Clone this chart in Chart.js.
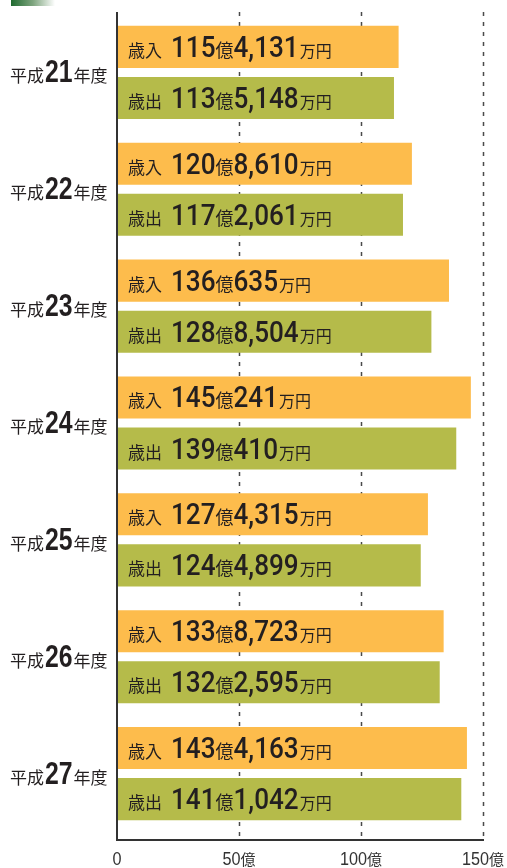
<!DOCTYPE html>
<html>
<head>
<meta charset="utf-8">
<script src="https://cdn.jsdelivr.net/npm/chart.js@4.4.1/dist/chart.umd.min.js"></script>
<style>
  html, body { margin: 0; padding: 0; background: #fff; }
  #wrap { width: 507px; height: 868px; position: relative; }
</style>
</head>
<body>
<div id="wrap"><canvas id="myChart"></canvas></div>
<script>
// 年度ごとの決算額（単位：万円）
const years = ['平成21年度', '平成22年度', '平成23年度', '平成24年度', '平成25年度', '平成26年度', '平成27年度'];
const revenue = [1154131, 1208610, 1360635, 1450241, 1274315, 1338723, 1434163];     // 歳入
const expenditure = [1135148, 1172061, 1288504, 1390410, 1244899, 1322595, 1411042]; // 歳出
const seriesNames = ['歳入', '歳出'];
const xTicks = [0, 50, 100, 150];
const xTickLabels = ['0', '50億', '100億', '150億'];

const CJK = '"Noto Sans CJK JP", sans-serif';
const NUM = 'Roboto, "Liberation Sans", Arial, sans-serif';
const NUM2 = '"Liberation Sans", Arial, sans-serif';
const ink = '#231f20';

// split 万円 value into 億 / 万 parts
function splitOku(v) {
    const oku = Math.floor(v / 10000);
    const man = (v % 10000).toLocaleString('en-US');
    return [String(oku), man];
}

// draw a run of text pieces with different fonts on one baseline
function drawRun(ctx, x, y, parts) {
    parts.forEach(p => {
        const sx = p.sx || 1;
        ctx.save();
        ctx.font = p.font;
        const w = ctx.measureText(p.text).width * sx;
        ctx.translate(x, y);
        ctx.scale(sx, 1);
        ctx.fillText(p.text, 0, 0);
        ctx.restore();
        x += w + (p.gap || 0);
    });
}

const decoPlugin = {
    id: 'deco',
    beforeDatasetsDraw(chart) {
        const ctx = chart.ctx;
        const xs = chart.scales.x;
        const area = chart.chartArea;
        const top = area.top - 2, bottom = area.bottom + 8;
        ctx.save();
        // dashed grid
        ctx.strokeStyle = '#4a4a4a';
        ctx.lineWidth = 1.5;
        ctx.setLineDash([4, 6]);
        xTicks.slice(1).forEach(t => {
            const px = Math.round(xs.getPixelForValue(t)) + 0.5;
            ctx.beginPath();
            ctx.moveTo(px, top);
            ctx.lineTo(px, bottom);
            ctx.stroke();
        });
        ctx.restore();

        // green gradient tab
        ctx.save();
        const g = ctx.createLinearGradient(11, 0, 55, 0);
        g.addColorStop(0, '#1f6a2f');
        g.addColorStop(0.5, '#7fa57f');
        g.addColorStop(1, '#ffffff');
        ctx.fillStyle = g;
        ctx.fillRect(11, 0, 44, 6);
        ctx.restore();
    },
    afterDatasetsDraw(chart) {
        const ctx = chart.ctx;
        const xs = chart.scales.x;
        const ys = chart.scales.y;
        const area = chart.chartArea;
        const top = area.top - 2, bottom = area.bottom + 8;
        ctx.save();
        // axis lines
        ctx.strokeStyle = '#333';
        ctx.lineWidth = 2;
        ctx.beginPath();
        ctx.moveTo(area.left, top);
        ctx.lineTo(area.left, bottom);
        ctx.lineTo(xs.getPixelForValue(150) + 1, bottom);
        ctx.stroke();

        ctx.fillStyle = ink;
        ctx.textBaseline = 'alphabetic';
        ctx.textAlign = 'left';

        // bar labels
        [revenue, expenditure].forEach((arr, d) => {
            const meta = chart.getDatasetMeta(d);
            meta.data.forEach((el, i) => {
                const [oku, man] = splitOku(arr[i]);
                drawRun(ctx, area.left + 11, el.y + 10, [
                    { text: seriesNames[d], font: '17px ' + CJK, gap: 9 },
                    { text: oku, font: '500 29px ' + NUM, sx: 0.9 },
                    { text: '億', font: '18px ' + CJK },
                    { text: man, font: '500 29px ' + NUM, sx: 0.9, gap: 1 },
                    { text: '万円', font: '16px ' + CJK }
                ]);
            });
        });

        // category labels
        years.forEach((label, i) => {
            const m = label.match(/^(\D+)(\d+)(\D+)$/);
            const cy = ys.getPixelForValue(i);
            drawRun(ctx, 10, cy + 10, [
                { text: m[1], font: '17px ' + CJK, gap: 1 },
                { text: m[2], font: 'bold 31px ' + NUM2, sx: 0.8, gap: 1 },
                { text: m[3], font: '17px ' + CJK }
            ]);
        });

        // x tick labels
        ctx.fillStyle = '#333';
        xTicks.forEach((t, i) => {
            const lbl = xTickLabels[i];
            const num = lbl.replace('億', '');
            const oku = lbl.endsWith('億') ? '億' : '';
            ctx.font = '18px ' + NUM2;
            const wn = ctx.measureText(num).width * 0.9;
            ctx.font = '15px ' + CJK;
            const wo = ctx.measureText(oku).width;
            const px = xs.getPixelForValue(t);
            drawRun(ctx, px - (wn + wo) / 2, 865, [
                { text: num, font: '18px ' + NUM2, sx: 0.9 },
                { text: oku, font: '15px ' + CJK }
            ]);
        });
        ctx.restore();
    }
};

const ctx = document.getElementById('myChart').getContext('2d');

const myChart = new Chart(ctx, {
    type: 'bar',
    data: {
        labels: years,
        datasets: [{
            label: seriesNames[0],
            data: revenue.map(v => v / 10000),
            backgroundColor: '#fdbc4c',
            borderWidth: 0
        }, {
            label: seriesNames[1],
            data: expenditure.map(v => v / 10000),
            backgroundColor: '#b5bb4a',
            borderWidth: 0
        }]
    },
    options: {
        indexAxis: 'y',
        responsive: true,
        maintainAspectRatio: false,
        animation: false,
        layout: { padding: { top: 14, right: 24, left: 0, bottom: 0 } },
        datasets: {
            bar: { categoryPercentage: 0.874, barPercentage: 0.824 }
        },
        plugins: {
            legend: { display: false },
            tooltip: { enabled: false }
        },
        scales: {
            x: {
                min: 0,
                max: 150,
                ticks: { display: false, stepSize: 50 },
                grid: { display: false },
                border: { display: false },
                afterFit: s => { s.height = 36; }
            },
            y: {
                ticks: { display: false },
                grid: { display: false },
                border: { display: false },
                afterFit: s => { s.width = 117; }
            }
        }
    },
    plugins: [decoPlugin]
});
</script>
</body>
</html>
